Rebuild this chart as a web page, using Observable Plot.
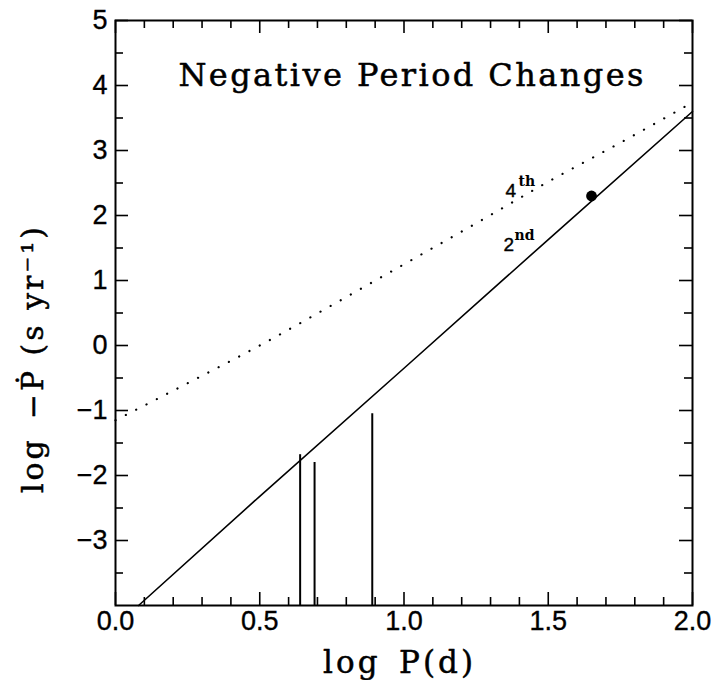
<!DOCTYPE html>
<html>
<head>
<meta charset="utf-8">
<script src="https://cdn.jsdelivr.net/npm/d3@7"></script>
<script src="https://cdn.jsdelivr.net/npm/@observablehq/plot@0.6"></script>
<style>
  html, body { margin: 0; padding: 0; background: white; }
</style>
</head>
<body>
<div id="chart"></div>
<script>
// ---- data ----
const title = "Negative Period Changes";
const xTitle = "log\u2002P(d)";
const yTitle = "log\u2002\u2212\u1E56 (s yr\u207B\u00B9)";

// 2nd-overtone relation (solid line)
const solidX = [0.08, 0.5, 1.0, 1.5, 2.0];
const solidY = [-4.0, -2.32, -0.35, 1.63, 3.60];

// 4th-overtone relation (dotted line)
const dottedX = [0.0, 0.25, 0.5, 0.75, 1.0, 1.25, 1.5, 1.75, 2.0];
const dottedY = [-1.15, -0.58, 0.0, 0.62, 1.25, 1.88, 2.52, 3.12, 3.74];

// vertical lines (upper limits) from the bottom of the frame
const barX = [0.64, 0.69, 0.89];
const barTop = [-1.68, -1.80, -1.05];

// filled point
const pointX = [1.65];
const pointY = [2.30];

// curve labels
const labelBase = [{t: "4", x: 1.352, y: 2.28}, {t: "2", x: 1.345, y: 1.46}];
const labelSup = [{t: "th", x: 1.397, y: 2.46}, {t: "nd", x: 1.383, y: 1.63}];

// ticks
const xMajor = [0, 0.5, 1.0, 1.5, 2.0];
const xMinor = [0.1, 0.2, 0.3, 0.4, 0.6, 0.7, 0.8, 0.9, 1.1, 1.2, 1.3, 1.4, 1.6, 1.7, 1.8, 1.9];
const yMajor = [-3, -2, -1, 0, 1, 2, 3, 4, 5];
const yMinor = [-3.5, -2.5, -1.5, -0.5, 0.5, 1.5, 2.5, 3.5, 4.5];
const xDomain = [0, 2];
const yDomain = [-4, 5];

// ---- build ----
const solid = solidX.map((x, i) => ({x, y: solidY[i]}));
const dotted = dottedX.map((x, i) => ({x, y: dottedY[i]}));
const bars = barX.map((x, i) => ({x, top: barTop[i]}));
const points = pointX.map((x, i) => ({x, y: pointY[i]}));

const W = 714, H = 680;
const mL = 115, mR = 22, mT = 20, mB = 75;
const innerW = W - mL - mR, innerH = H - mT - mB;
const majorLen = 13, minorLen = 8;
const tickW = 1.6;
const serif = "DejaVu Serif";

const chart = Plot.plot({
  width: W,
  height: H,
  marginLeft: mL, marginRight: mR, marginTop: mT, marginBottom: mB,
  x: {domain: xDomain, label: null},
  y: {domain: yDomain, label: null},
  style: {fontFamily: "Liberation Sans", fontSize: "26px", background: "white", color: "black"},
  marks: [
    // inward ticks on all four sides
    Plot.ruleX(xMajor, {insetTop: innerH - majorLen, strokeWidth: tickW}),
    Plot.ruleX(xMajor, {insetBottom: innerH - majorLen, strokeWidth: tickW}),
    Plot.ruleX(xMinor, {insetTop: innerH - minorLen, strokeWidth: tickW}),
    Plot.ruleX(xMinor, {insetBottom: innerH - minorLen, strokeWidth: tickW}),
    Plot.ruleY(yMajor, {insetRight: innerW - majorLen, strokeWidth: tickW}),
    Plot.ruleY(yMajor, {insetLeft: innerW - majorLen, strokeWidth: tickW}),
    Plot.ruleY(yMinor, {insetRight: innerW - minorLen, strokeWidth: tickW}),
    Plot.ruleY(yMinor, {insetLeft: innerW - minorLen, strokeWidth: tickW}),
    // tick labels
    Plot.axisX(xMajor, {tickSize: 0, tickPadding: 5, tickFormat: d3.format(".1f"), label: null, fontSize: 27}),
    Plot.axisY(yMajor, {tickSize: 0, tickPadding: 8, tickFormat: d3.format("d"), label: null, fontSize: 27}),
    // curves
    Plot.line(dotted, {x: "x", y: "y", stroke: "black", strokeWidth: 2.2, strokeDasharray: "0.1,11.5", strokeLinecap: "round", curve: "monotone-x"}),
    Plot.line(solid, {x: "x", y: "y", stroke: "black", strokeWidth: 1.6}),
    Plot.ruleX(bars, {x: "x", y1: yDomain[0], y2: "top", stroke: "black", strokeWidth: 2}),
    Plot.dot(points, {x: "x", y: "y", r: 5.4, fill: "black", stroke: "none"}),
    // curve labels
    Plot.text(labelBase, {x: "x", y: "y", text: "t", textAnchor: "start", lineAnchor: "bottom", fontSize: 19, fontFamily: "Liberation Sans", fill: "black", stroke: "black", strokeWidth: 0.4}),
    Plot.text(labelSup, {x: "x", y: "y", text: "t", textAnchor: "start", lineAnchor: "bottom", fontSize: 14, fontWeight: "bold", fontFamily: serif, fill: "black"}),
    // in-plot title
    Plot.text([title], {x: 1.024, y: 4.0, text: d => d, textAnchor: "middle", lineAnchor: "bottom", fontSize: 32, fontFamily: serif, fill: "black", stroke: "black", strokeWidth: 0.5}),
    // axis titles
    Plot.text([xTitle], {frameAnchor: "bottom", text: d => d, textAnchor: "middle", lineAnchor: "bottom", dx: -6, dy: 67, fontSize: 31, fontFamily: serif, fill: "black", stroke: "black", strokeWidth: 0.5}),
    Plot.text([yTitle], {frameAnchor: "left", text: d => d, textAnchor: "middle", lineAnchor: "middle", rotate: -90, dx: -82, dy: 47, fontSize: 30, fontFamily: serif, fill: "black", stroke: "black", strokeWidth: 0.5}),
    Plot.frame({stroke: "black", strokeWidth: 2})
  ]
});

// stretch text runs to the widths seen in the reference
const fit = new Map([[title, 465], [xTitle, 150], [yTitle, 266]]);
d3.select(chart).selectAll("text").each(function() {
  const len = fit.get(this.textContent);
  if (len) d3.select(this).attr("textLength", len).attr("lengthAdjust", "spacing");
});
d3.select(chart).selectAll('g[aria-label="x-axis tick label"] text, g[aria-label="y-axis tick label"] text')
  .attr("stroke", "black").attr("stroke-width", 0.35);

document.getElementById("chart").appendChild(chart);
</script>
</body>
</html>
